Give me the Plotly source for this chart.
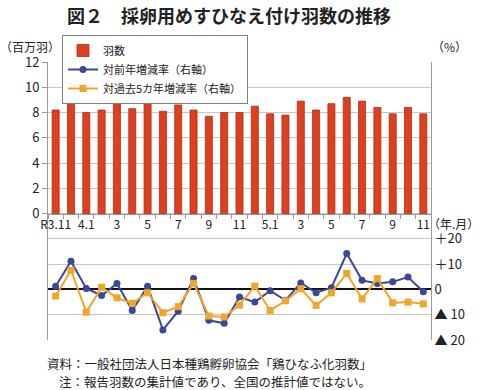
import plotly.graph_objects as go

# ---- data ----
months = list(range(25))  # R3.11 .. R5.11
tick_pos = [0, 2, 4, 6, 8, 10, 12, 14, 16, 18, 20, 22, 24]
tick_labels = ["R3.11", "4.1", "3", "5", "7", "9", "11", "5.1", "3", "5", "7", "9", "11"]

birds = [8.2, 9.0, 8.0, 8.2, 8.7, 8.3, 8.7, 8.1, 8.6, 8.2, 7.7, 8.0, 8.0,
         8.5, 7.9, 7.8, 8.9, 8.2, 8.7, 9.2, 8.9, 8.4, 7.9, 8.4, 7.9]
yoy = [1.3, 11.2, 0.4, -2.4, 2.4, -8.3, 1.3, -16.0, -8.6, 4.3, -12.2, -13.4, -3.0,
       -5.0, -0.5, -4.3, 2.6, -1.3, 0.7, 14.2, 3.6, 2.4, 3.0, 4.9, -0.9]
vs5y = [-2.6, 7.6, -9.0, 0.9, -3.3, -5.5, -1.3, -9.2, -6.8, 2.4, -10.5, -10.9, -6.2,
        1.3, -8.3, -4.5, 0.3, -6.3, -1.3, 6.3, -3.7, 4.3, -5.3, -5.0, -5.7]

left_ticks = [0, 2, 4, 6, 8, 10, 12]
right_ticks = [-20, -10, 0, 10, 20]
right_labels = ["▲ 20", "▲ 10", "0", "＋10", "＋20"]

FONT = "Noto Sans CJK JP"
BAR = "#DE3F1F"
BAR_EDGE = "#A8301A"
BLUE = "#3B479A"
ORANGE = "#F2A52A"
GRID = "#C8C8C8"
AXIS = "#9A9A9A"

# plot area in pixels (for annotation placement)
L, R, T, B = 48, 431, 62, 340
W, H = R - L, B - T
def px(x):
    return (x - L) / W
def py(y):
    return (B - y) / H

fig = go.Figure()
fig.add_trace(go.Bar(
    x=months, y=birds, name="羽数",
    marker=dict(color=BAR, line=dict(color=BAR_EDGE, width=0.8)),
    yaxis="y", width=0.46,
))
fig.add_trace(go.Scatter(
    x=months, y=yoy, name="対前年増減率（右軸）", yaxis="y2",
    mode="lines+markers",
    line=dict(color=BLUE, width=2),
    marker=dict(symbol="circle", size=7, color=BLUE),
))
fig.add_trace(go.Scatter(
    x=months, y=vs5y, name="対過去5カ年増減率（右軸）", yaxis="y2",
    mode="lines+markers",
    line=dict(color=ORANGE, width=2),
    marker=dict(symbol="square", size=7, color=ORANGE),
))

fig.update_layout(
    width=480, height=390,
    margin=dict(l=L, r=480 - R, t=T, b=390 - B, autoexpand=False),
    paper_bgcolor="white", plot_bgcolor="white",
    font=dict(family=FONT, size=12, color="#222222"),
    showlegend=True,
    title=dict(text="<b>図２　採卵用めすひなえ付け羽数の推移</b>",
               x=229 / 480, xanchor="center", y=1 - 17 / 390, yanchor="middle",
               font=dict(family=FONT, size=18, color="#222222")),
    legend=dict(x=px(62), y=py(35), xanchor="left", yanchor="top",
                bgcolor="white", bordercolor="#808080", borderwidth=1,
                font=dict(family=FONT, size=11), tracegroupgap=0,
                itemwidth=30, traceorder="normal"),
    xaxis=dict(
        range=[-0.5, 24.5], anchor="free", position=10 / 22,
        tickmode="array", tickvals=tick_pos, ticktext=tick_labels,
        ticks="", showgrid=False, showline=True, linecolor=AXIS, linewidth=1,
        tickfont=dict(family=FONT, size=12, color="#222222"),
        minor=dict(ticks="outside", tickvals=[i - 0.5 for i in range(26)],
                   ticklen=4, tickcolor=AXIS, showgrid=False),
        zeroline=False,
    ),
    yaxis=dict(
        range=[-10, 12], tickmode="array", tickvals=left_ticks,
        ticktext=[str(v) for v in left_ticks],
        showgrid=True, gridcolor=GRID, gridwidth=1,
        showline=True, linecolor=AXIS, ticks="outside", ticklen=5,
        tickcolor=AXIS, zeroline=False,
        tickfont=dict(family=FONT, size=13, color="#222222"),
    ),
    yaxis2=dict(
        range=[-20, 90], overlaying="y", side="right",
        tickmode="array", tickvals=right_ticks, ticktext=right_labels,
        showgrid=True, gridcolor=GRID, gridwidth=1,
        showline=True, linecolor=AXIS, ticks="",
        zeroline=True, zerolinecolor="#111111", zerolinewidth=1.6,
        tickfont=dict(family=FONT, size=13, color="#222222"),
    ),
    bargap=0.54,
)

annots = [
    dict(text="（百万羽）", x=px(30), y=py(47), xanchor="center", yanchor="middle",
         font=dict(size=12)),
    dict(text="（%）", x=px(450), y=py(47), xanchor="center", yanchor="middle",
         font=dict(size=12)),
    dict(text="（年.月）", x=px(453), y=py(223), xanchor="center", yanchor="middle",
         font=dict(size=12)),
    dict(text="資料：一般社団法人日本種鶏孵卵協会「鶏ひなふ化羽数」", x=px(45), y=py(363),
         xanchor="left", yanchor="middle", font=dict(size=12.5)),
    dict(text="注：報告羽数の集計値であり、全国の推計値ではない。", x=px(57), y=py(381),
         xanchor="left", yanchor="middle", font=dict(size=12.5)),
]
for a in annots:
    a.update(xref="paper", yref="paper", showarrow=False)
    a["font"] = dict(family=FONT, size=a["font"]["size"], color="#222222")
    fig.add_annotation(**a)

fig.write_html(
    "out.html",
    config={"displayModeBar": False},
    post_script="document.body.style.margin='0';document.body.style.overflow='hidden';",
)
